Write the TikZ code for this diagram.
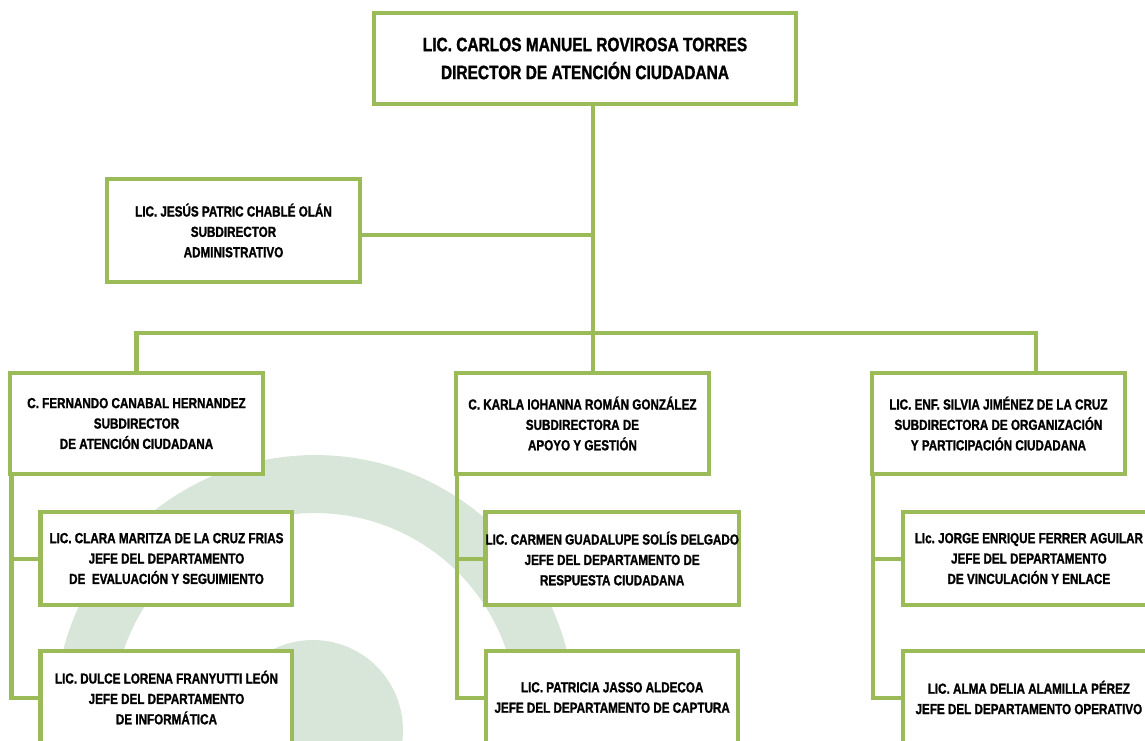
\documentclass[tikz,border=0pt]{standalone}
\usepackage{fontspec}
\usepackage{xcolor}
\usepackage{tikz}
\usetikzlibrary{positioning}
\newfontfamily\orgfont{Liberation Sans}[FakeStretch=0.8, BoldFeatures={FakeBold=1.3}]
\definecolor{leaf}{HTML}{9BBB59}
\definecolor{wmark}{HTML}{D7E6D8}
\tikzset{
  orgbox/.style={
    rectangle, draw=leaf, fill=white, line width=2.3pt,
    minimum width=5.06cm, minimum height=#1,
    font=\orgfont\bfseries\fontsize{8.3}{11.6}\selectfont, align=center,
    inner xsep=0pt, inner ysep=2pt
  },
  orgbox/.default=2.02cm,
  deptbox/.style={orgbox=1.86cm, minimum width=5.04cm},
  bossbox/.style={
    rectangle, draw=leaf, fill=white, line width=2.3pt,
    minimum width=8.44cm, minimum height=1.82cm,
    font=\orgfont\bfseries\fontsize{11}{15.9}\selectfont, align=center
  },
  link/.style={draw=leaf, line width=2.3pt},
}
\begin{document}
\begin{tikzpicture}[x=0.02cm, y=-0.02cm]
  \clip (0,0) rectangle (1145,740);
  \fill[wmark, even odd rule] (315,715) circle (5.2cm) (315,715) circle (4.04cm);
  \fill[wmark] (313,730) circle (1.8cm);
  \node[bossbox] (director) at (585,58.5) {LIC. CARLOS MANUEL ROVIROSA TORRES\\DIRECTOR DE ATENCIÓN CIUDADANA};
  \node[orgbox=2.06cm] (admin) at (233.5,230.5) {LIC. JESÚS PATRIC CHABLÉ OLÁN\\SUBDIRECTOR\\ADMINISTRATIVO};
  \node[orgbox] (fernando) at (136.5,423.5) {C. FERNANDO CANABAL HERNANDEZ\\SUBDIRECTOR\\DE ATENCIÓN CIUDADANA};
  \node[orgbox, right=3.78cm of fernando] (karla) {C. KARLA IOHANNA ROMÁN GONZÁLEZ\\SUBDIRECTORA DE\\APOYO Y GESTIÓN};
  \node[orgbox, right=3.18cm of karla] (silvia) {LIC. ENF. SILVIA JIMÉNEZ DE LA CRUZ\\SUBDIRECTORA DE ORGANIZACIÓN\\Y PARTICIPACIÓN CIUDADANA};
  \node[deptbox, below=0.68cm of fernando, xshift=0.6cm] (clara) {LIC. CLARA MARITZA DE LA CRUZ FRIAS\\JEFE DEL DEPARTAMENTO\\DE \ EVALUACIÓN Y SEGUIMIENTO};
  \node[deptbox, right=3.78cm of clara] (carmen) {LIC. CARMEN GUADALUPE SOLÍS DELGADO\\JEFE DEL DEPARTAMENTO DE\\RESPUESTA CIUDADANA};
  \node[deptbox, right=3.2cm of carmen] (jorge) {LIc.\ JORGE ENRIQUE FERRER AGUILAR\\JEFE DEL DEPARTAMENTO\\DE VINCULACIÓN Y ENLACE};
  \node[deptbox, below=0.84cm of clara] (dulce) {LIC. DULCE LORENA FRANYUTTI LEÓN\\JEFE DEL DEPARTAMENTO\\DE INFORMÁTICA};
  \node[deptbox, below=0.84cm of carmen] (patricia) {LIC. PATRICIA JASSO ALDECOA\\JEFE DEL DEPARTAMENTO DE CAPTURA};
  \node[deptbox, below=0.84cm of jorge] (alma) {LIC. ALMA DELIA ALAMILLA PÉREZ\\JEFE DEL DEPARTAMENTO OPERATIVO};
  \coordinate (hub) at (593,333);
  \draw[link] (director.south -| hub) -- (karla.north -| hub);
  \draw[link] ([yshift=-0.09cm]admin.east) -- ([yshift=-0.09cm]admin.east -| hub);
  \draw[link] (fernando.north) |- (hub) -| ([xshift=0.76cm]silvia.north);
  \draw[link] ([xshift=2pt]fernando.south west) |- (clara.west);
  \draw[link] ([xshift=2pt]fernando.south west) |- (dulce.west);
  \draw[link] ([xshift=2pt]karla.south west) |- (carmen.west);
  \draw[link] ([xshift=2pt]karla.south west) |- (patricia.west);
  \draw[link] ([xshift=2pt]silvia.south west) |- (jorge.west);
  \draw[link] ([xshift=2pt]silvia.south west) |- (alma.west);
\end{tikzpicture}
\end{document}
